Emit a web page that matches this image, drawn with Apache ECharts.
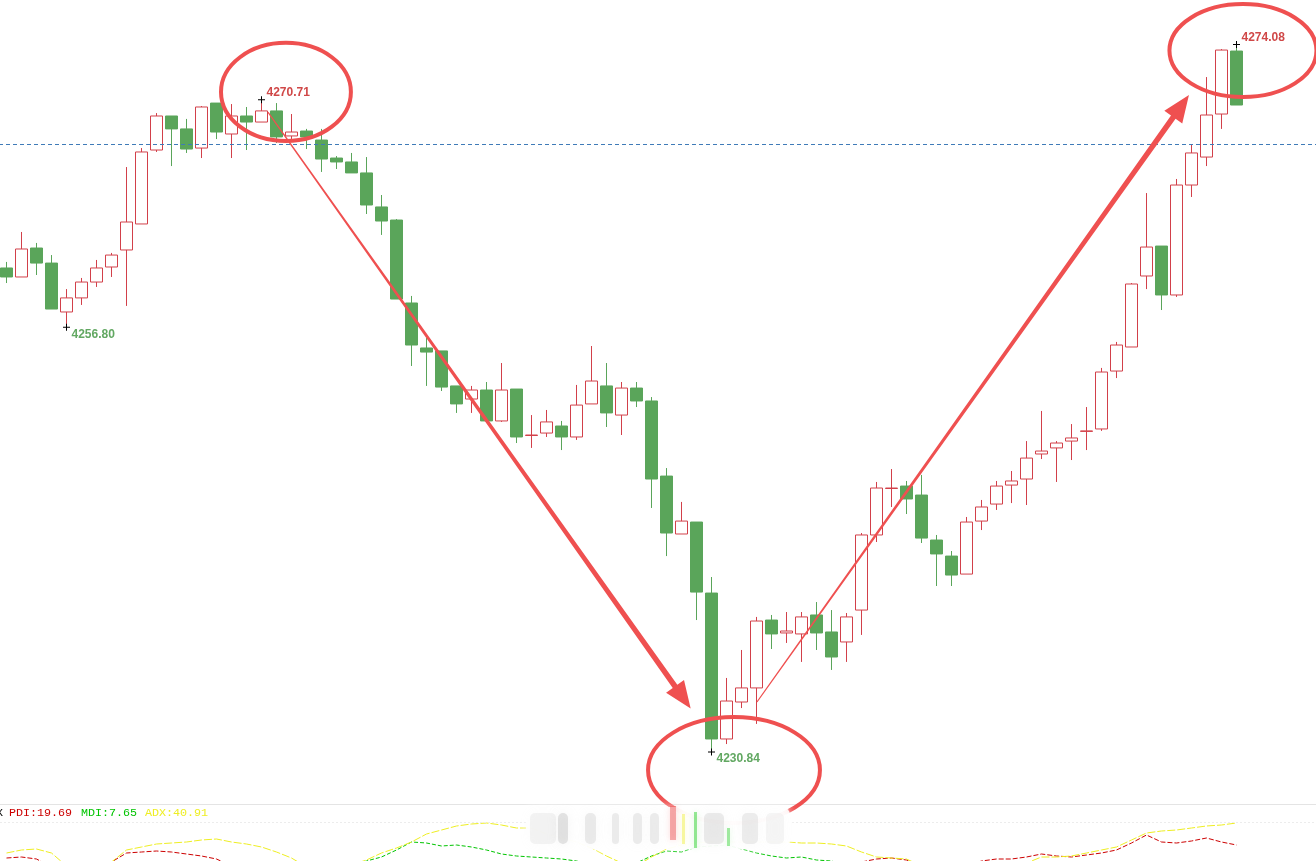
<!DOCTYPE html>
<html><head><meta charset="utf-8">
<script src="https://cdn.jsdelivr.net/npm/echarts@6/dist/echarts.min.js"></script>
<style>html,body{margin:0;padding:0;background:#fff;overflow:hidden}#c{width:1316px;height:861px}</style>
</head><body><div id="c"></div><script>
// ---- data ----
const categories = Array.from({length: 88}, (_, i) => String(i + 1));
// [open, close, low, high]
const ohlc = [
[4260.42,4259.87,4259.50,4260.79],
[4259.87,4261.58,4259.87,4262.62],
[4261.64,4260.72,4259.99,4261.95],
[4260.72,4257.91,4257.91,4261.21],
[4257.73,4258.59,4256.80,4259.13],
[4258.59,4259.56,4258.16,4259.81],
[4259.56,4260.42,4259.26,4260.91],
[4260.48,4261.21,4259.87,4261.34],
[4261.52,4263.23,4258.10,4266.59],
[4263.11,4267.51,4263.11,4267.75],
[4267.63,4269.71,4267.51,4269.89],
[4269.71,4268.92,4266.65,4269.71],
[4268.92,4267.69,4267.45,4269.53],
[4267.75,4270.26,4267.14,4270.32],
[4270.50,4268.73,4268.30,4270.50],
[4268.61,4269.71,4267.14,4270.44],
[4269.71,4269.34,4267.63,4270.26],
[4269.34,4270.02,4269.34,4270.71],
[4270.02,4268.43,4268.06,4270.50],
[4268.49,4268.73,4268.12,4269.83],
[4268.79,4268.43,4267.69,4268.92],
[4268.24,4267.08,4266.29,4268.92],
[4267.14,4266.90,4266.47,4267.26],
[4266.90,4266.23,4266.23,4267.45],
[4266.23,4264.27,4263.72,4267.20],
[4264.15,4263.29,4262.44,4264.88],
[4263.35,4258.52,4258.52,4263.41],
[4258.28,4255.71,4254.43,4258.71],
[4255.53,4255.28,4253.21,4256.14],
[4255.35,4253.14,4252.90,4255.35],
[4253.21,4252.11,4251.56,4253.21],
[4252.41,4252.96,4251.56,4253.21],
[4252.96,4251.07,4251.07,4253.45],
[4251.07,4252.96,4251.01,4254.61],
[4253.02,4250.09,4249.72,4253.02],
[4250.18,4250.21,4249.42,4251.43],
[4250.33,4251.01,4250.09,4251.74],
[4250.76,4250.09,4249.29,4251.07],
[4250.09,4252.04,4249.91,4253.27],
[4252.11,4253.51,4252.11,4255.65],
[4253.21,4251.56,4250.70,4254.61],
[4251.43,4253.08,4250.21,4253.45],
[4253.08,4252.29,4251.92,4253.45],
[4252.29,4247.52,4245.75,4252.53],
[4247.70,4244.22,4242.81,4248.19],
[4244.16,4244.95,4244.16,4246.12],
[4244.89,4240.61,4238.90,4244.89],
[4240.55,4231.63,4230.84,4241.53],
[4231.63,4233.95,4231.32,4235.36],
[4233.89,4234.75,4233.52,4237.07],
[4234.75,4238.84,4232.55,4239.09],
[4238.90,4238.05,4237.13,4239.21],
[4238.11,4238.23,4237.50,4239.39],
[4238.05,4239.09,4236.34,4239.39],
[4239.21,4238.11,4237.07,4240.00],
[4238.17,4236.64,4235.85,4239.51],
[4237.56,4239.09,4236.34,4239.33],
[4239.51,4244.10,4237.99,4244.22],
[4244.10,4246.97,4243.67,4247.34],
[4246.94,4246.97,4245.81,4248.13],
[4247.09,4246.30,4245.38,4247.40],
[4246.54,4243.91,4243.61,4247.77],
[4243.79,4242.94,4240.98,4244.10],
[4242.81,4241.65,4240.98,4243.12],
[4241.71,4244.89,4241.71,4245.20],
[4244.95,4245.81,4244.40,4246.24],
[4245.99,4247.09,4245.63,4247.40],
[4247.15,4247.40,4246.05,4248.01],
[4247.52,4248.80,4245.93,4249.84],
[4249.05,4249.23,4248.74,4251.68],
[4249.42,4249.72,4247.34,4249.84],
[4249.84,4250.03,4248.68,4250.88],
[4250.43,4250.46,4249.29,4251.92],
[4250.58,4254.06,4250.46,4254.31],
[4254.12,4255.71,4253.69,4255.90],
[4255.59,4259.44,4255.59,4259.50],
[4259.93,4261.70,4259.13,4265.00],
[4261.76,4258.77,4257.85,4261.76],
[4258.77,4265.49,4258.65,4265.86],
[4265.49,4267.45,4264.76,4267.94],
[4267.20,4269.77,4266.65,4272.09],
[4269.83,4273.74,4268.92,4273.80],
[4273.68,4270.38,4270.38,4274.08]
];
const refPrice = 4268.00;
const extremes = [
  {index: 4,  value: 4256.80, kind: 'low'},
  {index: 17, value: 4270.71, kind: 'high'},
  {index: 47, value: 4230.84, kind: 'low'},
  {index: 82, value: 4274.08, kind: 'high'}
];
const pdi = [6,7,5,-3,-6,-8,-5,2,11,12,13,12,10,8,5,-2,-5,-7,-8,-10,-9,-11,-12,-13,-14,-15,-15,-16,-16,-17,-17,-16,-16,-15,-15,-14,-14,-13,-12,-12,-13,-13,-14,-15,-16,-17,-17,-18,-17,-16,-14,-13,-12,-11,-9,-7,-3,2,5,6,4,-2,-5,-6,-2,3,5,5,7,10,8,7,9,11,14,21,29,22,21,23,26,22,19];
const mdi = [-8,-9,-10,-9,-7,-6,-7,-9,-12,-14,-16,-16,-15,-14,-13,-12,-11,-11,-10,-9,-8,-6,-4,-1,3,7,14,22,21,18,19,17,14,10,8,7,6,5,3,-1,-3,-2,1,8,13,12,17,18,19,15,11,8,6,7,4,3,-1,-4,-6,-7,-7,-5,-3,-2,-4,-6,-8,-9,-10,-11,-11,-12,-12,-13,-14,-15,-16,-14,-15,-16,-17,-17,-18];
const adx = [11,14,15,11,-2,-6,-4,2,14,17,20,21,22,24,25,22,20,17,12,6,-3,-6,-4,-1,4,11,16,22,30,34,38,40,41,39,36,36,30,26,22,16,8,1,-2,7,15,19,21,22,22,22,22,22,22,21,21,20,18,12,7,6,5,-2,-5,-7,-8,-7,-5,-3,1,7,7,8,11,14,17,24,31,33,34,36,38,39,41];
const indicatorNames = ['PDI', 'MDI', 'ADX'];
const indicatorLast = ['19.69', '7.65', '40.91'];
// annotation anchors in data space: [bar index, price]
const circles = [
  {at: [18.63, 4271.18], rx: 4.33, ry: 3.00},
  {at: [48.50, 4229.73], rx: 5.73, ry: 3.24},
  {at: [82.43, 4273.71], rx: 4.90, ry: 2.84}
];
const arrows = [
  {from: [17.43, 4269.95], to: [45.61, 4233.50]},
  {from: [50.03, 4233.89], to: [78.83, 4270.99]}
];

// ---- styles ----
const RED = '#d2404a', GREEN = '#5aa55a';
const LBL_RED = '#d04848', LBL_GREEN = '#62a862';
const ANN = '#ef5050';
const IND_COLORS = ['#cc0000', '#00c400', '#eeee22'];

const chart = echarts.init(document.getElementById('c'), null, {renderer: 'canvas'});
const option = {
  animation: false,
  backgroundColor: '#ffffff',
  grid: [
    {left: -1, top: 0, width: 1320, height: 800, outerBoundsMode: 'none', containLabel: false},
    {left: -1, top: 822, width: 1320, height: 62, outerBoundsMode: 'none', containLabel: false}
  ],
  xAxis: [
    {type: 'category', data: categories, gridIndex: 0, show: false, boundaryGap: true},
    {type: 'category', data: categories, gridIndex: 1, show: false, boundaryGap: true}
  ],
  yAxis: [
    {type: 'value', gridIndex: 0, min: 4227.9, max: 4276.8, show: false},
    {type: 'value', gridIndex: 1, min: -20, max: 42, show: false}
  ],
  series: [
    {
      type: 'candlestick', xAxisIndex: 0, yAxisIndex: 0, data: ohlc, barWidth: 12,
      itemStyle: {color: '#ffffff', color0: GREEN, borderColor: RED, borderColor0: GREEN, borderWidth: 1},
      markLine: {
        silent: true, symbol: 'none', label: {show: false},
        lineStyle: {color: '#3f7bb8', type: [4, 3], width: 1},
        emphasis: {disabled: true},
        data: [{yAxis: refPrice}]
      },
      markPoint: {
        silent: true,
        symbol: 'path://M0,3H7V4H0Z M3,0H4V7H3Z',
        symbolSize: 7,
        itemStyle: {color: '#000'},
        label: {
          show: true, fontSize: 12, fontWeight: 'bold', fontFamily: 'Liberation Sans, Arial',
          align: 'left', verticalAlign: 'middle',
          formatter: p => Number(p.value).toFixed(2)
        },
        data: extremes.map(e => ({
          coord: [e.index, e.value], value: e.value,
          label: {color: e.kind === 'high' ? LBL_RED : LBL_GREEN,
                  position: e.kind === 'high' ? [8.5, -3.5] : [8.5, 10.5]}
        }))
      }
    },
    ...[pdi, mdi, adx].map((arr, k) => ({
      type: 'line', name: indicatorNames[k], xAxisIndex: 1, yAxisIndex: 1, data: arr,
      symbol: 'none', clip: true, silent: true, z: k === 2 ? 3 : 2,
      lineStyle: {color: IND_COLORS[k], width: 1, type: k === 2 ? [8, 2] : (k === 0 ? [5, 2] : [4, 2])}
    }))
  ]
};
chart.setOption(option);

// ---- overlay graphics ----
function px(i, price) {
  const a = chart.convertToPixel({xAxisIndex: 0, yAxisIndex: 0}, [0, price]);
  const b = chart.convertToPixel({xAxisIndex: 0, yAxisIndex: 0}, [1, price]);
  return [a[0] + i * (b[0] - a[0]), a[1]];
}
const band = px(1, 0)[0] - px(0, 0)[0];
const ppu = px(0, 4250)[1] - px(0, 4251)[1];

const g = [];
// panel separators
g.push({type: 'line', z: 10, silent: true, shape: {x1: 0, y1: 804.5, x2: 1316, y2: 804.5}, style: {stroke: '#e4e4e4', lineWidth: 1}});
g.push({type: 'line', z: 10, silent: true, shape: {x1: 0, y1: 822.5, x2: 1316, y2: 822.5}, style: {stroke: '#ececec', lineWidth: 1, lineDash: [2, 2]}});
// indicator legend
const legendX = [9, 81, 145];
g.push({type: 'text', z: 10, silent: true, x: -4, y: 813, style: {text: 'X', fill: '#000', font: '11.7px "Liberation Mono", monospace', textVerticalAlign: 'middle', verticalAlign: 'middle'}});
indicatorNames.forEach((n, k) => {
  g.push({type: 'text', z: 10, silent: true, x: legendX[k], y: 813,
    style: {text: n + ':' + indicatorLast[k], fill: IND_COLORS[k], font: '11.7px "Liberation Mono", monospace', textVerticalAlign: 'middle', verticalAlign: 'middle'}});
});
// circles
circles.forEach(c => {
  const p = px(c.at[0], c.at[1]);
  g.push({type: 'ellipse', z: 100, silent: true, shape: {cx: p[0], cy: p[1], rx: c.rx * band, ry: c.ry * ppu},
    style: {fill: 'none', stroke: ANN, lineWidth: 4}});
});
// arrows
arrows.forEach(a => {
  const S = px(a.from[0], a.from[1]);
  const T = px(a.to[0], a.to[1]);
  const dx = T[0] - S[0], dy = T[1] - S[1];
  const len = Math.hypot(dx, dy);
  const u = [dx / len, dy / len], n = [-u[1], u[0]];
  const L = 27, H = 11, w0 = 1.2, w1 = 5.6;
  const B = [T[0] - u[0] * L, T[1] - u[1] * L];
  const pt = (P, s) => [P[0] + n[0] * s, P[1] + n[1] * s];
  g.push({type: 'polygon', z: 100, silent: true,
    shape: {points: [pt(S, w0 / 2), pt(B, w1 / 2), pt(B, H), T, pt(B, -H), pt(B, -w1 / 2), pt(S, -w0 / 2)]},
    style: {fill: ANN}});
});
// blurred watermark over the indicator panel
g.push({type: 'rect', z: 110, silent: true, shape: {x: 526, y: 807, width: 264, height: 42, r: 8},
  style: {fill: 'rgba(255,255,255,0.9)', shadowBlur: 8, shadowColor: 'rgba(255,255,255,0.9)'}});
const wm = [
  [530, 26, 'rgba(215,215,215,0.28)'], [558, 10, 'rgba(190,190,190,0.42)'], [585, 11, 'rgba(200,200,200,0.35)'],
  [612, 7, 'rgba(200,200,200,0.32)'], [633, 9, 'rgba(200,200,200,0.32)'], [650, 9, 'rgba(200,200,200,0.32)'],
  [704, 20, 'rgba(200,200,200,0.35)'], [742, 16, 'rgba(200,200,200,0.3)'], [766, 18, 'rgba(215,215,215,0.22)']
];
wm.forEach(b => g.push({type: 'rect', z: 111, silent: true, shape: {x: b[0], y: 813, width: b[1], height: 31, r: 5},
  style: {fill: b[2], shadowBlur: 12, shadowColor: b[2]}}));
[[670, 806, 6, 34, 'rgba(235,80,80,0.45)'], [682, 814, 3, 30, 'rgba(240,240,60,0.45)'],
 [694, 812, 3, 36, 'rgba(0,200,0,0.4)'], [727, 828, 3, 18, 'rgba(0,200,0,0.35)']].forEach(b =>
  g.push({type: 'rect', z: 112, silent: true, shape: {x: b[0], y: b[1], width: b[2], height: b[3]},
    style: {fill: b[4], shadowBlur: 6, shadowColor: b[4]}}));

chart.setOption({graphic: g});
</script></body></html>
